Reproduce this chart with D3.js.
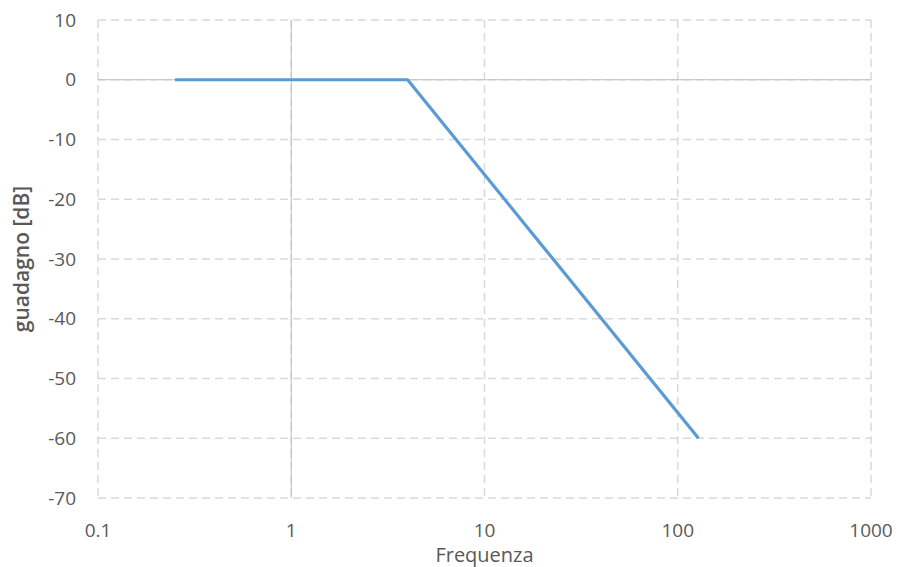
<!DOCTYPE html>
<html>
<head>
<meta charset="utf-8">
<script src="https://cdn.jsdelivr.net/npm/d3@7"></script>
<style>
  body { margin: 0; background: #fff; }
  svg text { font-family: "Open Sans", "Liberation Sans", sans-serif; fill: #595959; }
</style>
</head>
<body>
<svg id="grafico"></svg>
<script>
// dati
const frequenze = [0.25, 0.5, 1, 2, 4, 8, 16, 32, 64, 128];
const guadagni  = [0, 0, 0, 0, 0, -12, -24, -36, -48, -60];
const x_ticks = [0.1, 1, 10, 100, 1000];
const y_ticks = [10, 0, -10, -20, -30, -40, -50, -60, -70];

const w = 900, h = 567;
const margin = { top: 20, bottom: 69, left: 98, right: 29 };

const $svg = d3.select('#grafico')
  .attr('width', w)
  .attr('height', h);

// scale
const x = d3.scaleLog()
  .domain([0.1, 1000])
  .range([margin.left, w - margin.right]);

const y = d3.scaleLinear()
  .domain([-70, 10])
  .range([h - margin.bottom, margin.top]);

// griglia tratteggiata
$svg.append('g')
  .selectAll('line')
  .data(y_ticks)
  .join('line')
  .attr('x1', x(0.1)).attr('x2', x(1000))
  .attr('y1', d => y(d)).attr('y2', d => y(d))
  .attr('stroke', '#d9d9d9')
  .attr('stroke-width', 1.5)
  .attr('stroke-dasharray', '8,5');

$svg.append('g')
  .selectAll('line')
  .data(x_ticks)
  .join('line')
  .attr('x1', d => x(d)).attr('x2', d => x(d))
  .attr('y1', y(10)).attr('y2', y(-70))
  .attr('stroke', '#d9d9d9')
  .attr('stroke-width', 1.5)
  .attr('stroke-dasharray', '8,5');

// assi (incrociano in 0 e in 1)
$svg.append('line')
  .attr('x1', x(0.1)).attr('x2', x(1000))
  .attr('y1', y(0)).attr('y2', y(0))
  .attr('stroke', '#bfbfbf');

$svg.append('line')
  .attr('x1', x(1)).attr('x2', x(1))
  .attr('y1', y(10)).attr('y2', y(-70))
  .attr('stroke', '#bfbfbf');

// etichette
$svg.append('g')
  .selectAll('text')
  .data(y_ticks)
  .join('text')
  .attr('x', 76)
  .attr('y', d => y(d))
  .attr('dy', '0.35em')
  .attr('text-anchor', 'end')
  .attr('font-size', 19)
  .text(d => d);

$svg.append('g')
  .selectAll('text')
  .data(x_ticks)
  .join('text')
  .attr('x', d => x(d))
  .attr('y', 537)
  .attr('text-anchor', 'middle')
  .attr('font-size', 19)
  .text(d => d);

$svg.append('text')
  .attr('x', x(10))
  .attr('y', 562)
  .attr('text-anchor', 'middle')
  .attr('font-size', 20)
  .text('Frequenza');

$svg.append('text')
  .attr('transform', `translate(29, ${y(-30)}) rotate(-90)`)
  .attr('text-anchor', 'middle')
  .attr('font-size', 21)
  .attr('font-weight', 600)
  .text('guadagno [dB]');

// curva
const dati = frequenze.map((f, i) => ({ f: f, g: guadagni[i] }));

const linea = d3.line()
  .x(d => x(d.f))
  .y(d => y(d.g));

$svg.append('path')
  .datum(dati)
  .attr('d', linea)
  .attr('fill', 'none')
  .attr('stroke', '#5b9bd5')
  .attr('stroke-width', 3.2)
  .attr('stroke-linejoin', 'round');
</script>
</body>
</html>
